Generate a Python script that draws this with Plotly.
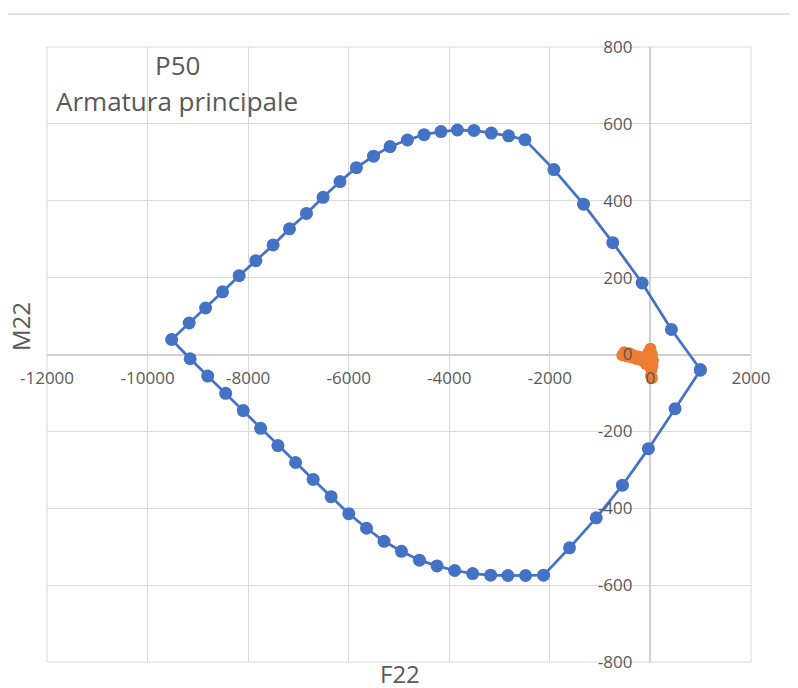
import plotly.graph_objects as go

# Blue interaction domain: top branch (right -> left), then bottom branch (left -> right)
F22_top = [993, 417, -165, -749, -1331, -1920, -2496, -2820, -3164, -3509, -3839, -4165,
           -4502, -4832, -5177, -5507, -5847, -6173, -6510, -6840, -7178, -7503, -7847,
           -8179, -8508, -8846, -9172, -9521]
M22_top = [-39, 65, 186, 291, 391, 481, 559, 569, 576, 583, 584, 580,
           572, 558, 541, 516, 486, 450, 409, 367, 327, 285, 244,
           205, 163, 121, 82, 39]
F22_bot = [-9153, -8804, -8447, -8097, -7751, -7408, -7056, -6707, -6349, -5998, -5646,
           -5297, -4951, -4594, -4244, -3893, -3535, -3178, -2834, -2483, -2125, -1609,
           -1078, -556, -40, 490, 993]
M22_bot = [-11, -56, -101, -146, -192, -237, -281, -325, -370, -414, -452,
           -486, -512, -535, -550, -562, -570, -574, -575, -575, -574, -503,
           -425, -340, -245, -141, -41]

# Orange: applied loads cluster
F22_load = [-560, -520, -470, -420, -380, -330, -280, -230, -180, -130, -80, -40, 0,
            30, 50, 40, 20, 10, 30, -20, -90, -150]
M22_load = [-2, 6, -5, 3, -8, -2, -12, -5, -15, -8, -18, 5, 15,
            0, -15, -30, -40, -55, -62, -30, -25, -12]

x_ticks = [-12000, -10000, -8000, -6000, -4000, -2000, 0, 2000]
y_ticks = [-800, -600, -400, -200, 0, 200, 400, 600, 800]

FONT = "Open Sans"
GRAY = "#595959"
GRID = "#D9D9D9"

fig = go.Figure()
fig.add_trace(go.Scatter(
    x=F22_top + F22_bot, y=M22_top + M22_bot, mode="lines+markers",
    line=dict(color="#4472C4", width=2.75),
    marker=dict(color="#4472C4", size=13),
    showlegend=False, cliponaxis=False))
fig.add_trace(go.Scatter(
    x=F22_load, y=M22_load, mode="markers",
    marker=dict(color="#ED7D31", size=12),
    showlegend=False))

fig.update_layout(
    width=798, height=688,
    margin=dict(l=39, r=55, t=39, b=34),
    paper_bgcolor="white", plot_bgcolor="white",
    font=dict(family=FONT, color=GRAY, size=17),
    xaxis=dict(range=[-12000, 2000], tickvals=x_ticks, ticktext=[str(v) for v in x_ticks],
               showgrid=True, gridcolor=GRID, gridwidth=1,
               zeroline=True, zerolinecolor="#D0D0D0", zerolinewidth=1.5,
               anchor="free", position=0.5, ticks="", ticklabelstandoff=11,
               tickfont=dict(family=FONT, size=17, color=GRAY)),
    yaxis=dict(range=[-800, 800], tickvals=y_ticks, ticktext=[str(v) for v in y_ticks],
               showgrid=True, gridcolor=GRID, gridwidth=1,
               zeroline=True, zerolinecolor="#D0D0D0", zerolinewidth=1.5,
               anchor="free", position=12000 / 14000, ticks="", ticklabelstandoff=18,
               tickfont=dict(family=FONT, size=17, color=GRAY)),
    shapes=[
        dict(type="rect", xref="paper", yref="paper", x0=0, x1=1, y0=0, y1=1,
             line=dict(color=GRID, width=1), layer="below"),
        dict(type="line", xref="paper", yref="paper", x0=-0.08, x1=1.08, y0=1.0537, y1=1.0537,
             line=dict(color="#D9D9D9", width=1.5)),
    ],
    annotations=[
        dict(text="P50", xref="paper", yref="paper", x=0.1847, y=0.9707,
             xanchor="center", yanchor="middle", showarrow=False,
             font=dict(family=FONT, size=26, color=GRAY)),
        dict(text="Armatura principale", xref="paper", yref="paper", x=0.1847, y=0.9122,
             xanchor="center", yanchor="middle", showarrow=False,
             font=dict(family=FONT, size=26, color=GRAY)),
        dict(text="F22", xref="paper", yref="paper", x=0.5014, y=-0.0195,
             xanchor="center", yanchor="middle", showarrow=False,
             font=dict(family=FONT, size=24, color=GRAY)),
        dict(text="M22", xref="paper", yref="paper", x=-0.0384, y=0.5463,
             xanchor="center", yanchor="middle", showarrow=False, textangle=-90,
             font=dict(family=FONT, size=24, color=GRAY)),
    ],
)

fig.write_html("out.html")
